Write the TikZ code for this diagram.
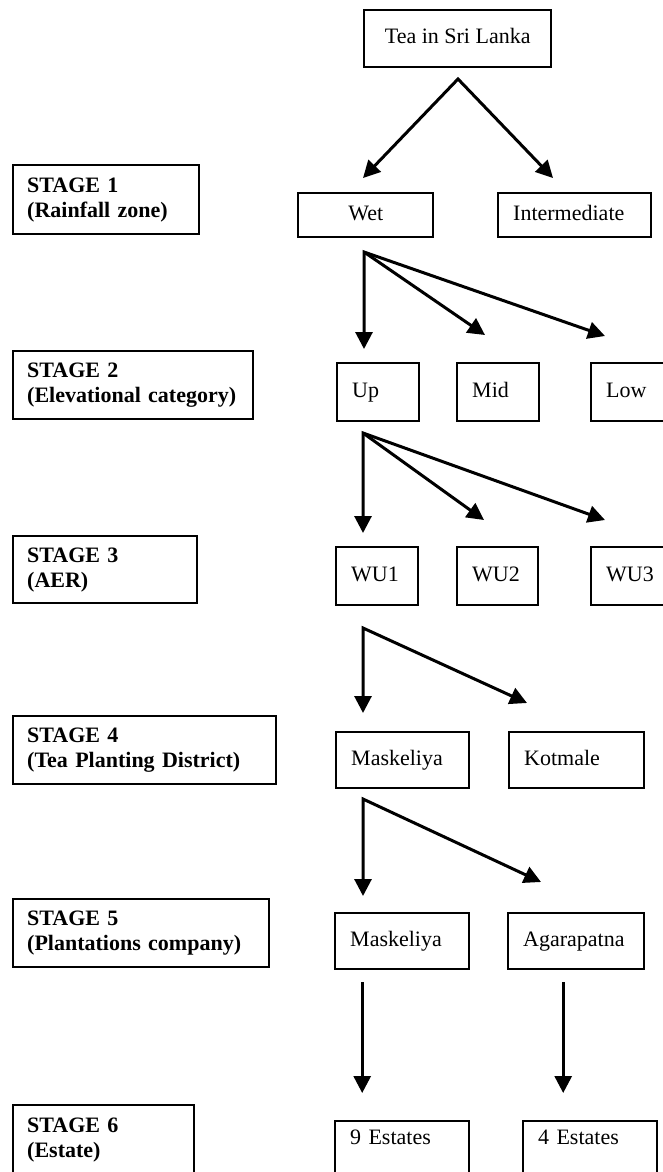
\documentclass[tikz,border=0pt]{standalone}
\usepackage{fontspec}
\setmainfont{Liberation Serif}
\usetikzlibrary{arrows.meta}
\tikzset{
    box/.style={draw, line width=1.2pt, anchor=north west, inner xsep=7.5pt, inner ysep=0pt,
        align=left, text height=7.6pt, text depth=2.4pt, font=\fontsize{11}{12.5}\selectfont},
    stagebox/.style={box, inner xsep=7pt, text height={}, text depth={}, font=\bfseries\fontsize{11}{12.5}\selectfont},
    arr/.style={line width=1.5pt, -{Triangle[length=8.5pt,width=8.5pt]}},
    twoarr/.style={line width=1.5pt, {Triangle[length=8.5pt,width=8.5pt]}-{Triangle[length=8.5pt,width=8.5pt]}},
}
\begin{document}
\begin{tikzpicture}[x=0.5pt, y=-0.5pt]
\useasboundingbox (0,0) rectangle (663,1172);

% stages
\node[stagebox, text width=79pt, minimum height=34.5pt] (s1) at (12,164) {STAGE 1\\(Rainfall zone)};
\node[stagebox, text width=106pt, minimum height=34pt] (s2) at (12,350) {STAGE 2\\(Elevational category)};
\node[stagebox, text width=78pt, minimum height=33.5pt] (s3) at (12,535) {STAGE 3\\(AER)};
\node[stagebox, text width=117.5pt, minimum height=34pt] (s4) at (12,715) {STAGE 4\\(Tea Planting District)};
\node[stagebox, text width=114pt, minimum height=34pt] (s5) at (12,898) {STAGE 5\\(Plantations company)};
\node[stagebox, text width=76.5pt, minimum height=35pt] (s6) at (12,1104) {STAGE 6\\(Estate)};

% tree
\node[box, minimum width=93.5pt, minimum height=28.5pt] (tea) at (363,9) {Tea in Sri Lanka};
\node[box, minimum width=67.5pt, minimum height=22pt] (wet) at (297,192) {Wet};
\node[box, text width=61.5pt, minimum height=22pt] (inter) at (497,192) {Intermediate};

\node[box, text width=26pt, minimum height=29pt] (up) at (336,362) {Up};
\node[box, text width=26pt, minimum height=29pt] (mid) at (456,362) {Mid};
\node[box, text width=23pt, minimum height=29pt] (low) at (590,362) {Low};

\node[box, text width=26pt, minimum height=29pt] (wu1) at (335,546) {WU1};
\node[box, text width=25.5pt, minimum height=29pt] (wu2) at (456,546) {WU2};
\node[box, text width=23pt, minimum height=29pt] (wu3) at (590,546) {WU3};

\node[box, text width=51.5pt, minimum height=28pt] (maskd) at (335,731) {Maskeliya};
\node[box, text width=52.5pt, minimum height=28pt] (kotmale) at (508,731) {Kotmale};

\node[box, text width=52pt, minimum height=28pt] (maskc) at (334,912) {Maskeliya};
\node[box, text width=53pt, minimum height=28pt] (agara) at (507,912) {Agarapatna};

\node[box, text width=52pt, minimum height=28pt, text depth=12pt] (est9) at (334,1120) {9 Estates};
\node[box, text width=52pt, minimum height=28pt, text depth=12pt] (est4) at (522,1120) {4 Estates};

% forks
\coordinate (tea-fork) at (458,79);
\coordinate (wet-tip) at (363,178);
\coordinate (inter-tip) at (553,178);

\coordinate (wet-fork) at (364,252);
\coordinate (up-tip) at (364,349);
\coordinate (mid-tip) at (485,335);
\coordinate (low-tip) at (605,336);

\coordinate (up-fork) at (363,433);
\coordinate (wu1-tip) at (363,533);
\coordinate (wu2-tip) at (484,520);
\coordinate (wu3-tip) at (605,520);

\coordinate (wu1-fork) at (363,628);
\coordinate (maskd-tip) at (363,713);
\coordinate (kotmale-tip) at (527,703);

\coordinate (maskd-fork) at (363,799);
\coordinate (maskc-tip) at (363,896);
\coordinate (agara-tip) at (541,882);

\draw[twoarr] (wet-tip) -- (tea-fork) -- (inter-tip);
\draw[twoarr] (up-tip) -- (wet-fork) -- (low-tip);
\draw[arr] (wet-fork) -- (mid-tip);
\draw[twoarr] (wu1-tip) -- (up-fork) -- (wu3-tip);
\draw[arr] (up-fork) -- (wu2-tip);
\draw[twoarr] (maskd-tip) -- (wu1-fork) -- (kotmale-tip);
\draw[twoarr] (maskc-tip) -- (maskd-fork) -- (agara-tip);

\draw[arr] (maskc.south) ++(-40,12) coordinate (maskc-out) -- (maskc-out |- 0,1093);
\draw[arr] (agara.south) ++(-13,12) coordinate (agara-out) -- (agara-out |- 0,1093);

\end{tikzpicture}
\end{document}
